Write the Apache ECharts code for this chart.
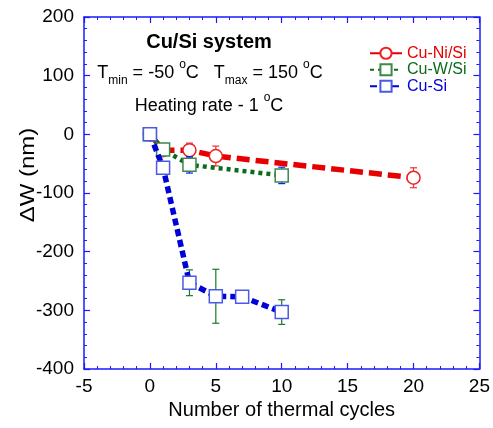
<!DOCTYPE html>
<html><head><meta charset="utf-8">
<script src="https://cdn.jsdelivr.net/npm/echarts@6/dist/echarts.min.js"></script>
<style>html,body{margin:0;padding:0;background:#fff}#c{width:493px;height:428px}</style>
</head><body><div id="c"></div>
<script>
// ---- data ----
const seriesNames = ['Cu-Ni/Si', 'Cu-W/Si', 'Cu-Si'];
const niCycles = [0, 1, 3, 5, 20];
const niDW     = [0, -27, -27, -37, -74];
const niErr    = [0, 4, 12, 17, 17];
const wCycles  = [0, 1, 3, 10];
const wDW      = [0, -26, -52, -70];
const wErr     = [0, 4, 14, 14];
const siCycles = [0, 1, 3, 5, 7, 10];
const siDW     = [0, -57, -253, -276, -277, -303];
const siErr    = [0, 9, 22, 46, 7, 21];
const xTickLabels = ['-5', '0', '5', '10', '15', '20', '25'];
const yTickLabels = ['-400', '-300', '-200', '-100', '0', '100', '200'];

const FONT = '"Liberation Sans", Arial, sans-serif';
const AX = '#1a1aff';
const pairs = (xs, ys) => xs.map((x, i) => [x, ys[i]]);
const errData = (xs, ys, es) => xs.map((x, i) => [x, ys[i], es[i]]).filter(d => d[2] > 0);

function errSeries(data, color, z) {
  return {
    type: 'custom', xAxisIndex: 0, yAxisIndex: 0, z: z, silent: true,
    data: data,
    renderItem: function (params, api) {
      const x = api.value(0), y = api.value(1), e = api.value(2);
      const top = api.coord([x, y + e]);
      const bot = api.coord([x, y - e]);
      const w = 3.5;
      const st = { stroke: color, lineWidth: 1.2 };
      return { type: 'group', children: [
        { type: 'line', shape: { x1: top[0], y1: top[1], x2: bot[0], y2: bot[1] }, style: st },
        { type: 'line', shape: { x1: top[0] - w, y1: top[1], x2: top[0] + w, y2: top[1] }, style: st },
        { type: 'line', shape: { x1: bot[0] - w, y1: bot[1], x2: bot[0] + w, y2: bot[1] }, style: st }
      ]};
    }
  };
}

const xMin = Number(xTickLabels[0]), xMax = Number(xTickLabels[xTickLabels.length - 1]);
const yMin = Number(yTickLabels[0]), yMax = Number(yTickLabels[yTickLabels.length - 1]);

function xAxisDef(pos, showLabel) {
  return {
    type: 'value', position: pos, min: xMin, max: xMax, interval: 5,
    axisLine: { show: true, onZero: false, lineStyle: { color: AX, width: 1.5 } },
    axisTick: { show: true, inside: true, length: 6, lineStyle: { color: AX, width: 1.2 } },
    minorTick: { show: true, splitNumber: 5, length: 3, lineStyle: { color: AX, width: 1 } },
    splitLine: { show: false },
    axisLabel: { show: showLabel, color: '#000', fontSize: 19, fontFamily: FONT, margin: 8 },
    name: showLabel ? 'Number of thermal cycles' : '', nameLocation: 'middle', nameGap: 31,
    nameTextStyle: { color: '#000', fontSize: 20, fontFamily: FONT }
  };
}
function yAxisDef(pos, showLabel) {
  return {
    type: 'value', position: pos, min: yMin, max: yMax, interval: 100,
    axisLine: { show: true, onZero: false, lineStyle: { color: AX, width: 1.5 } },
    axisTick: { show: true, inside: true, length: 6, lineStyle: { color: AX, width: 1.2 } },
    minorTick: { show: true, splitNumber: 5, length: 3, lineStyle: { color: AX, width: 1 } },
    splitLine: { show: false },
    axisLabel: { show: showLabel, color: '#000', fontSize: 19, fontFamily: FONT, margin: 10 }
  };
}

const RED = '#e60000', GREEN = '#0b6b1b', BLUE = '#0000d8';

const chart = echarts.init(document.getElementById('c'), null, { renderer: 'canvas' });
chart.setOption({
  animation: false,
  backgroundColor: '#fff',
  grid: { left: 84, right: 13, top: 17, bottom: 59 },
  xAxis: [xAxisDef('bottom', true), xAxisDef('top', false)],
  yAxis: [yAxisDef('left', true), yAxisDef('right', false)],
  legend: {
    orient: 'vertical', left: 364, top: 40, itemGap: 0, itemWidth: 32, itemHeight: 14,
    textStyle: { fontSize: 16, fontFamily: FONT, lineHeight: 16.5 },
    data: [
      { name: seriesNames[0], textStyle: { color: RED } },
      { name: seriesNames[1], textStyle: { color: GREEN } },
      { name: seriesNames[2], textStyle: { color: BLUE } }
    ]
  },
  graphic: [
    { type: 'text', x: 209, y: 42, style: { text: 'Cu/Si system', font: 'bold 20px ' + FONT, fill: '#000', textAlign: 'center', textVerticalAlign: 'middle' } },
    { type: 'text', x: 210, y: 73, style: {
        text: '{m|T}{s|min}{m| = -50 }{u|o}{m|C   T}{s|max}{m| = 150 }{u|o}{m|C}',
        textAlign: 'center', textVerticalAlign: 'middle', fill: '#000',
        rich: {
          m: { fontSize: 18, fontFamily: FONT, lineHeight: 28, verticalAlign: 'middle' },
          s: { fontSize: 12, fontFamily: FONT, lineHeight: 28, verticalAlign: 'bottom' },
          u: { fontSize: 12, fontFamily: FONT, lineHeight: 28, verticalAlign: 'top' }
        } } },
    { type: 'text', x: 209, y: 106, style: {
        text: '{m|Heating rate - 1 }{u|o}{m|C}',
        textAlign: 'center', textVerticalAlign: 'middle', fill: '#000',
        rich: {
          m: { fontSize: 18, fontFamily: FONT, lineHeight: 28, verticalAlign: 'middle' },
          u: { fontSize: 12, fontFamily: FONT, lineHeight: 28, verticalAlign: 'top' }
        } } },
    { type: 'text', x: 28, y: 175, rotation: Math.PI / 2, scaleX: 1.2, style: {
        text: 'ΔW (nm)', font: '20px ' + FONT, fill: '#000', textAlign: 'center', textVerticalAlign: 'middle' } }
  ],
  series: [
    errSeries(errData(niCycles, niDW, niErr), '#ee3333', 3),
    {
      name: seriesNames[0], type: 'line', z: 4, data: pairs(niCycles, niDW),
      symbol: 'circle', symbolSize: 13,
      itemStyle: { color: '#fff', borderColor: '#ee2222', borderWidth: 1.5 },
      lineStyle: { color: RED, width: 5.5, type: [13, 6] }
    },
    errSeries(errData(wCycles, wDW, wErr), '#1a1aff', 5),
    {
      name: seriesNames[1], type: 'line', z: 6, data: pairs(wCycles, wDW),
      symbol: 'rect', symbolSize: 13,
      itemStyle: { color: '#fff', borderColor: '#3a8a4a', borderWidth: 1.5 },
      lineStyle: { color: GREEN, width: 4.5, type: [4, 4] }
    },
    errSeries(errData(siCycles, siDW, siErr), '#1a7a2a', 7),
    {
      name: seriesNames[2], type: 'line', z: 8, data: pairs(siCycles, siDW),
      symbol: 'rect', symbolSize: 13,
      itemStyle: { color: '#fff', borderColor: '#4a5ae6', borderWidth: 1.5 },
      lineStyle: { color: BLUE, width: 5.5, type: [7, 4] }
    }
  ]
});
</script></body></html>
